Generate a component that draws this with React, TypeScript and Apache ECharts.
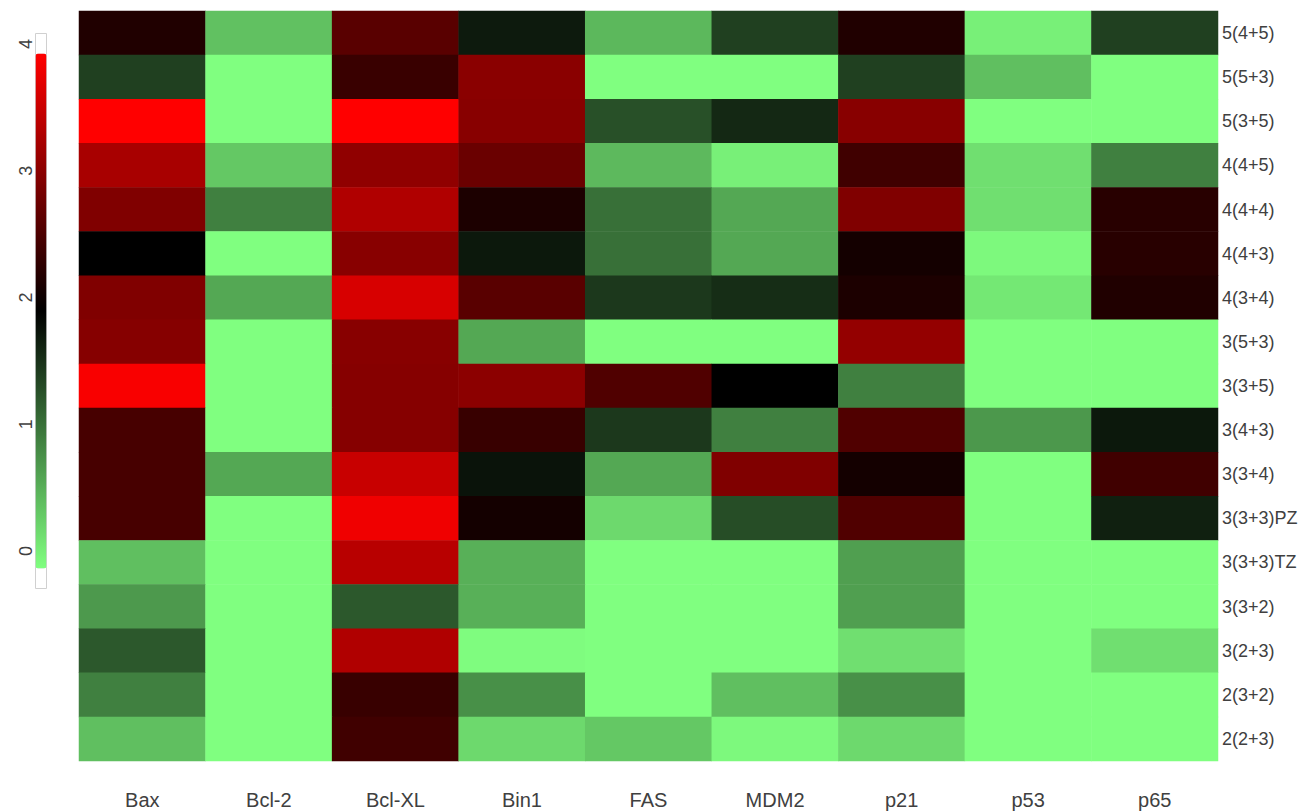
import React, { useEffect, useRef } from "react";
import * as echarts from "echarts";

const genes = ["Bax", "Bcl-2", "Bcl-XL", "Bin1", "FAS", "MDM2", "p21", "p53", "p65"];
const grades = [
  "5(4+5)", "5(5+3)", "5(3+5)", "4(4+5)", "4(4+4)", "4(4+3)", "4(3+4)",
  "3(5+3)", "3(3+5)", "3(4+3)", "3(3+4)", "3(3+3)PZ", "3(3+3)TZ",
  "3(3+2)", "3(2+3)", "2(3+2)", "2(2+3)",
];
const keyTicks = [0, 1, 2, 3, 4];

// values per grade row (top to bottom), columns follow `genes`
const r_5_45 = [2.25, 0.49, 2.7, 1.8, 0.56, 1.5, 2.25, 0.12, 1.5];
const r_5_53 = [1.5, 0.0, 2.45, 3.08, 0.0, 0.0, 1.5, 0.5, 0.0];
const r_5_35 = [4.0, 0.0, 4.0, 3.07, 1.37, 1.69, 3.07, 0.0, 0.0];
const r_4_45 = [3.32, 0.43, 3.13, 2.83, 0.55, 0.12, 2.5, 0.25, 1.0];
const r_4_44 = [3.0, 1.0, 3.38, 2.22, 1.12, 0.68, 3.0, 0.25, 2.31];
const r_4_43 = [2.0, 0.0, 3.07, 1.81, 1.12, 0.68, 2.16, 0.05, 2.31];
const r_4_34 = [3.0, 0.68, 3.69, 2.7, 1.56, 1.65, 2.22, 0.18, 2.25];
const r_3_53 = [3.05, 0.0, 3.07, 0.68, 0.0, 0.0, 3.16, 0.0, 0.0];
const r_3_35 = [3.95, 0.0, 3.05, 3.1, 2.63, 2.0, 1.0, 0.0, 0.0];
const r_3_43 = [2.56, 0.0, 3.05, 2.44, 1.56, 1.0, 2.63, 0.81, 1.81];
const r_3_34 = [2.56, 0.68, 3.57, 1.85, 0.68, 3.0, 2.16, 0.0, 2.5];
const r_3_33pz = [2.56, 0.0, 3.88, 2.16, 0.3, 1.4, 2.63, 0.0, 1.75];
const r_3_33tz = [0.5, 0.0, 3.44, 0.62, 0.0, 0.0, 0.75, 0.0, 0.0];
const r_3_32 = [0.8, 0.0, 1.31, 0.62, 0.0, 0.0, 0.75, 0.0, 0.0];
const r_3_23 = [1.31, 0.0, 3.38, 0.02, 0.0, 0.0, 0.25, 0.0, 0.25];
const r_2_32 = [1.0, 0.0, 2.44, 0.87, 0.0, 0.5, 0.87, 0.0, 0.0];
const r_2_23 = [0.5, 0.0, 2.5, 0.3, 0.43, 0.05, 0.3, 0.0, 0.0];

const rows = [
  r_5_45, r_5_53, r_5_35, r_4_45, r_4_44, r_4_43, r_4_34, r_3_53, r_3_35,
  r_3_43, r_3_34, r_3_33pz, r_3_33tz, r_3_32, r_3_23, r_2_32, r_2_23,
];

const FONT = "'Liberation Sans', Arial, sans-serif";
const TXT = "#404040";

export default function App() {
  const ref = useRef<HTMLDivElement>(null);
  useEffect(() => {
    if (!ref.current) return;
    const chart = echarts.init(ref.current, null, { renderer: "svg" });
    const data: [number, number, number][] = [];
    rows.forEach((row, ri) => row.forEach((v, ci) => data.push([ci, ri, v])));
    chart.setOption({
      animation: false,
      backgroundColor: "#ffffff",
      grid: [
        { left: 79, top: 11, width: 1139, height: 750 },
        { left: 36, top: 44, width: 11, height: 507 },
      ],
      xAxis: [
        {
          type: "category",
          gridIndex: 0,
          data: genes,
          axisLine: { show: false },
          axisTick: { show: false },
          splitLine: { show: false },
          axisLabel: { fontFamily: FONT, fontSize: 20, color: TXT, margin: 29 },
        },
        { type: "value", gridIndex: 1, show: false, min: 0, max: 1 },
      ],
      yAxis: [
        {
          type: "category",
          gridIndex: 0,
          data: grades,
          inverse: true,
          position: "right",
          axisLine: { show: false },
          axisTick: { show: false },
          splitLine: { show: false },
          axisLabel: {
            fontFamily: FONT,
            fontSize: 18,
            color: TXT,
            margin: 4,
            padding: [10, 0, 0, 0],
          },
        },
        {
          type: "value",
          gridIndex: 1,
          min: 0,
          max: 4,
          interval: 1,
          data: keyTicks,
          axisLine: { show: false },
          axisTick: { show: false },
          splitLine: { show: false },
          axisLabel: {
            rotate: 90,
            fontFamily: FONT,
            fontSize: 18,
            color: TXT,
            margin: 1,
          },
        },
      ],
      visualMap: {
        type: "continuous",
        seriesIndex: 0,
        min: 0,
        max: 4,
        calculable: false,
        orient: "vertical",
        left: 35,
        top: 33,
        itemWidth: 11,
        itemHeight: 515,
        padding: [20, 0, 20, 0],
        borderColor: "#d0d0d0",
        borderWidth: 1,
        text: null,
        showLabel: false,
        hoverLink: false,
        inRange: { color: ["#80FF80", "#000000", "#FF0000"] },
      },
      series: [
        {
          type: "heatmap",
          xAxisIndex: 0,
          yAxisIndex: 0,
          data,
          itemStyle: { borderWidth: 0 },
          emphasis: { disabled: true },
        },
      ],
    });
    return () => chart.dispose();
  }, []);
  return (
    <div
      ref={ref}
      style={{ position: "fixed", left: 0, top: 0, width: 1304, height: 812, background: "#fff" }}
    />
  );
}
